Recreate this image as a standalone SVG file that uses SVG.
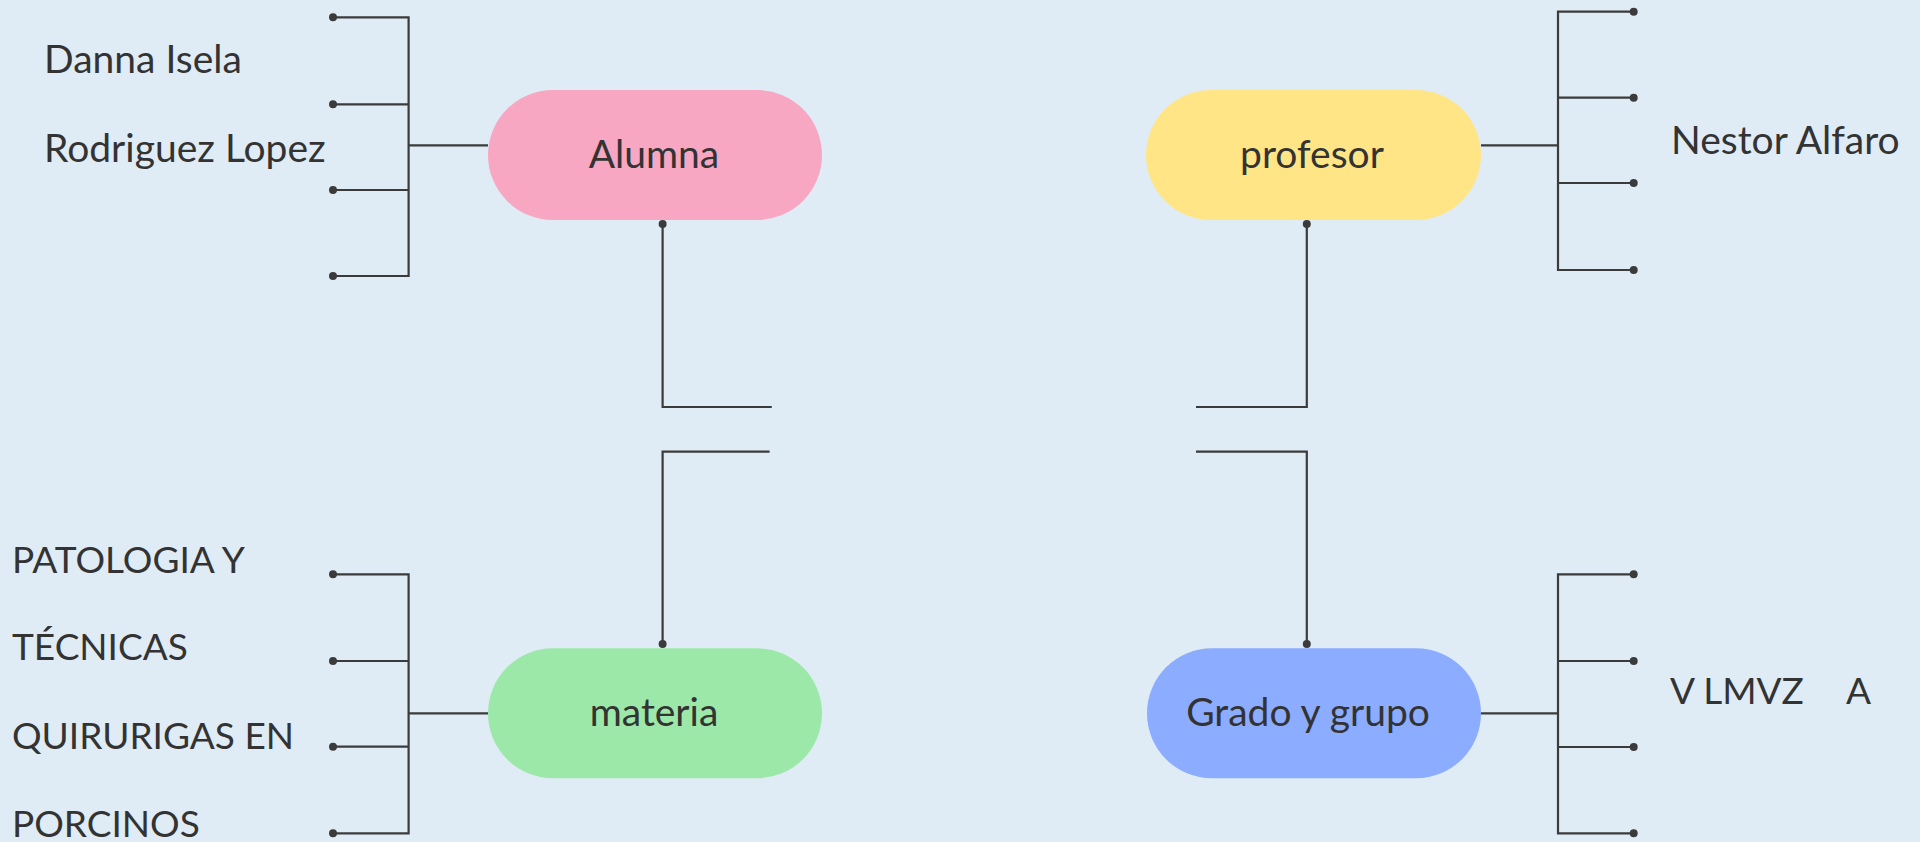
<svg xmlns="http://www.w3.org/2000/svg" width="1920" height="842" viewBox="0 0 1920 842">
<style>
.ln{fill:none;stroke:#3b3b3b;stroke-width:2.2}
.dot{fill:#3b3b3b}
.t{font-family:Lato,"Noto Sans","Liberation Sans",sans-serif;font-size:39px;fill:#333333}
.u{font-size:37px}
.c{text-anchor:middle}
</style>
<defs>
<circle id="d" r="4" class="dot"/>
</defs>
<rect width="1920" height="842" fill="#E0ECF5"/>
<g id="connectors">
<path class="ln" d="M333,17.3H408.6V276H333M333,104.3H408.6M333,190H408.6M408.6,145.3H488"/>
<path class="ln" d="M1633.7,11.7H1558V270H1633.7M1558,97.7H1633.7M1558,183H1633.7M1481,145.3H1558"/>
<path class="ln" d="M333,574.3H408.6V833.3H333M333,661H408.6M333,746.7H408.6M408.6,713.3H488"/>
<path class="ln" d="M1633.7,574.3H1558V833.3H1633.7M1558,661H1633.7M1558,747H1633.7M1481,713.3H1558"/>
<path class="ln" d="M662.6,224V407H771.8"/>
<path class="ln" d="M1306.8,224V407H1196"/>
<path class="ln" d="M662.6,644V451.7H769.6"/>
<path class="ln" d="M1306.8,644V451.7H1196"/>
<use href="#d" x="333" y="17.3"/><use href="#d" x="333" y="104.3"/><use href="#d" x="333" y="190"/><use href="#d" x="333" y="276"/>
<use href="#d" x="1633.7" y="11.7"/><use href="#d" x="1633.7" y="97.7"/><use href="#d" x="1633.7" y="183"/><use href="#d" x="1633.7" y="270"/>
<use href="#d" x="333" y="574.3"/><use href="#d" x="333" y="661"/><use href="#d" x="333" y="746.7"/><use href="#d" x="333" y="833.3"/>
<use href="#d" x="1633.7" y="574.3"/><use href="#d" x="1633.7" y="661"/><use href="#d" x="1633.7" y="747"/><use href="#d" x="1633.7" y="833.3"/>
<use href="#d" x="662.6" y="224"/><use href="#d" x="1306.8" y="224"/><use href="#d" x="662.6" y="644"/><use href="#d" x="1306.8" y="644"/>
</g>
<g id="alumna">
<rect x="488" y="90" width="334" height="130" rx="65" fill="#F7A7C2"/>
<text class="t c" x="654" y="168">Alumna</text>
</g>
<g id="profesor">
<rect x="1146" y="90" width="335" height="130" rx="65" fill="#FFE585"/>
<text class="t c" x="1312" y="168">profesor</text>
</g>
<g id="materia">
<rect x="488" y="648.3" width="334" height="130" rx="65" fill="#9BE8A8"/>
<text class="t c" x="654" y="726">materia</text>
</g>
<g id="grado">
<rect x="1147" y="648.3" width="334" height="130" rx="65" fill="#8CACFF"/>
<text class="t c" x="1308" y="726">Grado y grupo</text>
</g>
<g id="alumna-text">
<text class="t" x="44" y="73">Danna Isela</text>
<text class="t" x="44" y="162">Rodriguez Lopez</text>
</g>
<g id="profesor-text">
<text class="t" x="1671" y="154">Nestor Alfaro</text>
</g>
<g id="materia-text">
<text class="t u" x="12" y="572.7">PATOLOGIA Y</text>
<text class="t u" x="12" y="660">TÉCNICAS</text>
<text class="t u" x="12" y="749">QUIRURIGAS EN</text>
<text class="t u" x="12" y="836.7">PORCINOS</text>
</g>
<g id="grado-text">
<text class="t u" x="1670" y="704">V LMVZ<tspan x="1846">A</tspan></text>
</g>
</svg>
